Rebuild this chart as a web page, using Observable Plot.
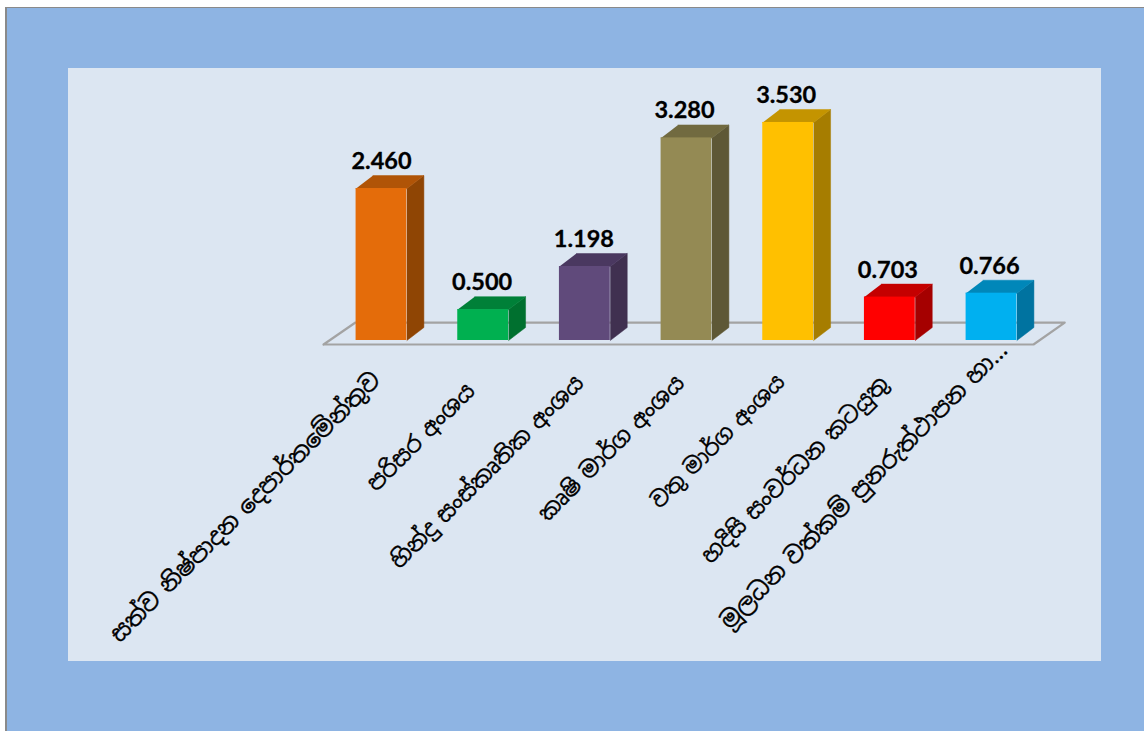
<!DOCTYPE html>
<html lang="si">
<head>
<meta charset="utf-8">
<script src="https://cdn.jsdelivr.net/npm/d3@7"></script>
<script src="https://cdn.jsdelivr.net/npm/@observablehq/plot@0.6"></script>
<style>
html,body{margin:0;padding:0;background:#fff;overflow:hidden}
#page{position:absolute;left:0;top:0;width:1144px;height:731px}
#outer{position:absolute;left:5px;top:7px;width:1139px;height:724px;background:#8EB4E3;border-left:2px solid #8a8a8a;border-top:1px solid #8a8a8a;box-sizing:border-box}
#inner{position:absolute;left:68px;top:68px;width:1033px;height:593px;background:#DCE6F2}
#chart{position:absolute;left:0;top:0}
svg{display:block;background:transparent}
svg text{word-spacing:-3px}
</style>
</head>
<body>
<div id="page"><div id="outer"></div><div id="inner"></div><div id="chart"></div></div>
<script>
const categories = [
  "සත්ව නිෂ්පාදන දෙපාර්තමේන්තුව",
  "පරිසර අංශය",
  "හින්දු සංස්කෘතික අංශය",
  "කෘෂි මාර්ග අංශය",
  "වතු මාර්ග අංශය",
  "හදිසි සංවර්ධන කටයුතු",
  "මූලධන වත්කම් පුනරුත්ථාපන හා…"
];
const values = [2.46, 0.5, 1.198, 3.28, 3.53, 0.703, 0.766];
const frontColors = ["#E46C0A", "#00B050", "#604A7B", "#948A54", "#FFC000", "#FF0000", "#00B0F0"];
const topColors = ["#B05407", "#008038", "#4A3860", "#716A40", "#C49400", "#C40000", "#0087B9"];
const sideColors = ["#8F4504", "#00702F", "#403050", "#5E5836", "#A67D00", "#A50000", "#0073A0"];

const halfWidth = 0.25, depthX = 0.167, depthY = 0.21;
const bars = values.map((v, i) => ({i, v, name: categories[i], front: frontColors[i]}));
const faces = bars.flatMap(({i, v}) => {
  const l = i - halfWidth, r = i + halfWidth;
  return [
    [[r, 0], [r + depthX, depthY], [r + depthX, v + depthY], [r, v]].map(([x, y]) => ({x, y, id: `s${i}`, c: sideColors[i]})),
    [[l, v], [r, v], [r + depthX, v + depthY], [l + depthX, v + depthY]].map(([x, y]) => ({x, y, id: `t${i}`, c: topColors[i]}))
  ];
}).flat();
const floorY = [-0.065, 0.291];
const floor = [[-0.57, floorY[0]], [-0.256, floorY[1]], [6.72, floorY[1]], [6.413, floorY[0]], [-0.57, floorY[0]]].map(([x, y]) => ({x, y}));

const valueMark = (i, dx) => Plot.text(bars, {
  filter: d => d.i === i, x: "i", y: "v", text: d => d.v.toFixed(3), dy: -27, dx,
  fontFamily: "Lato", fontWeight: 700, fontSize: 23.5, fill: "#000", stroke: "#000", strokeWidth: 0.3
});
const sinhalaStack = "'Noto Sans Sinhala','Iskoola Pota','Noto Sans','DejaVu Sans',sans-serif";
const labelMark = (i, dx, dy, fontSize = 22.5) => Plot.text(bars, {
  filter: d => d.i === i, x: "i", y: -0.58, text: "name", rotate: -45, textAnchor: "end", dx, dy,
  fontFamily: sinhalaStack, fontSize, fill: "#000", stroke: "#000", strokeWidth: 0.35
});

const chart = Plot.plot({
  width: 1144, height: 731,
  margin: 0,
  style: {background: "transparent"},
  x: {domain: [-381 / 101.67, (1144 - 381) / 101.67], range: [0, 1144], axis: null},
  y: {domain: [-(731 - 340) / 61.77, 340 / 61.77], range: [731, 0], axis: null},
  marks: [
    Plot.line(floor, {x: "x", y: "y", stroke: "#A3A3A3", strokeWidth: 2.2, curve: "linear"}),
    Plot.line(faces, {x: "x", y: "y", z: "id", fill: "c", stroke: "c", strokeWidth: 0.5, curve: "linear"}),
    Plot.rect(bars, {x1: d => d.i - halfWidth, x2: d => d.i + halfWidth, y1: 0, y2: "v", fill: "front"}),
    valueMark(0, 0), valueMark(1, -1), valueMark(2, -1), valueMark(3, -2), valueMark(4, -2), valueMark(5, -2), valueMark(6, -2),
    labelMark(0, -5, 0, 23.3), labelMark(1, -12, 11), labelMark(2, -5, 3), labelMark(3, -6, 3),
    labelMark(4, -7, 2, 21.8), labelMark(5, -5, 4), labelMark(6, 12, -30, 23.3)
  ]
});
document.getElementById("chart").appendChild(chart);
</script>
</body>
</html>
